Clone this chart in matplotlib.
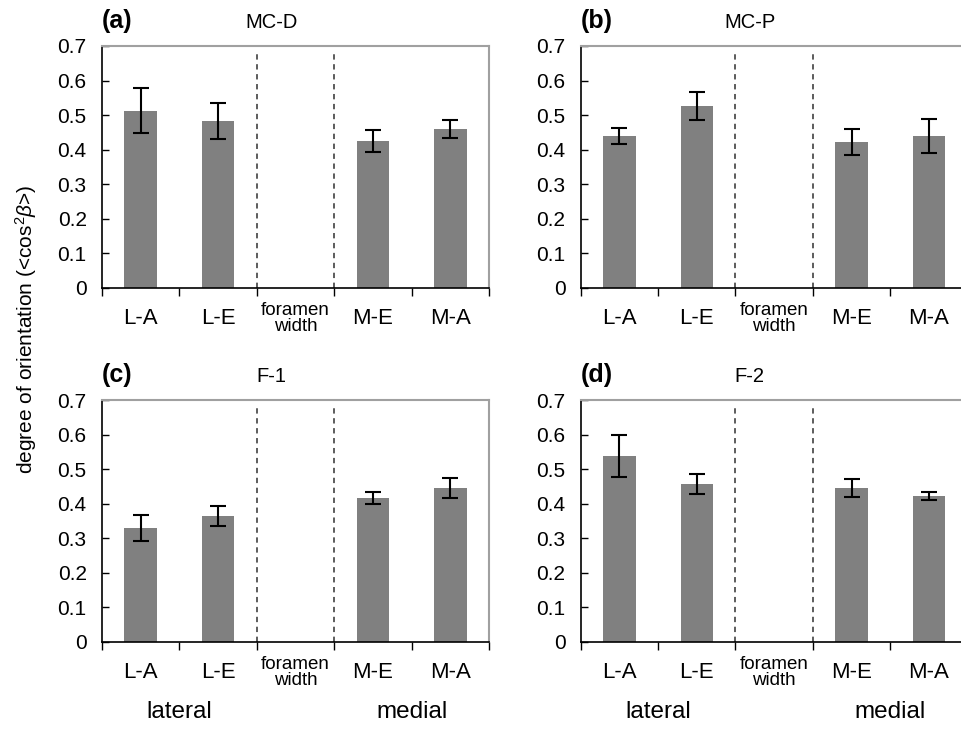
import numpy as np
import matplotlib
matplotlib.use("Agg")
import matplotlib.pyplot as plt
import matplotlib.transforms as mtransforms

plt.rcParams['font.family'] = ['Liberation Sans', 'DejaVu Sans']
plt.rcParams['mathtext.fontset'] = 'custom'
plt.rcParams['mathtext.rm'] = 'Liberation Sans'
plt.rcParams['mathtext.it'] = 'Liberation Sans:italic'

# categories (the middle slot is the foramen, no bar)
categories = ["L-A", "L-E", "foramen\nwidth", "M-E", "M-A"]
bar_slots = [0, 1, 3, 4]
panel_tags = ["(a)", "(b)", "(c)", "(d)"]
panel_names = ["MC-D", "MC-P", "F-1", "F-2"]

# mean degree of orientation, order L-A, L-E, M-E, M-A
mc_d = [0.513, 0.484, 0.424, 0.459]
mc_d_err = [0.064, 0.052, 0.032, 0.026]
mc_p = [0.439, 0.526, 0.423, 0.440]
mc_p_err = [0.024, 0.041, 0.038, 0.050]
f_1 = [0.329, 0.364, 0.416, 0.445]
f_1_err = [0.038, 0.030, 0.018, 0.030]
f_2 = [0.538, 0.457, 0.445, 0.422]
f_2_err = [0.061, 0.030, 0.027, 0.012]

values = [mc_d, mc_p, f_1, f_2]
errors = [mc_d_err, mc_p_err, f_1_err, f_2_err]

yticks = [0, 0.1, 0.2, 0.3, 0.4, 0.5, 0.6, 0.7]
ytick_labels = ["0", "0.1", "0.2", "0.3", "0.4", "0.5", "0.6", "0.7"]

fig = plt.figure(figsize=(9.62, 7.31), dpi=100)

W, H = 0.4023, 0.3307
positions = [
    [0.106, 0.6064, W, H],
    [0.6036, 0.6064, W, H],
    [0.106, 0.1220, W, H],
    [0.6036, 0.1220, W, H],
]

for i in range(4):
    ax = fig.add_axes(positions[i])
    ax.bar(bar_slots, values[i], width=0.42, color="#808080", zorder=2)
    ax.errorbar(bar_slots, values[i], yerr=errors[i], fmt="none",
                ecolor="black", elinewidth=1.5, capsize=5.5, capthick=1.5, zorder=3)

    # dashed lines around the foramen slot
    for xv in [1.5, 2.5]:
        ax.axvline(xv, ymin=0, ymax=0.975, color="#303030", lw=1.1,
                   ls=(0, (3.5, 3)), zorder=1)

    ax.set_xlim(-0.5, 4.5)
    ax.set_ylim(0, 0.7)

    ax.set_yticks(yticks)
    ax.set_yticklabels(ytick_labels, fontsize=15)
    ax.tick_params(axis="y", direction="in", length=5, width=1, pad=11)

    ax.set_xticks(np.arange(-0.5, 5.0, 1.0))
    ax.set_xticklabels([])
    ax.tick_params(axis="x", direction="out", length=5.5, width=1)

    for sp in ["left", "bottom"]:
        ax.spines[sp].set_color("black")
        ax.spines[sp].set_linewidth(1.2)
    for sp in ["top", "right"]:
        ax.spines[sp].set_color("#a0a0a0")
        ax.spines[sp].set_linewidth(1.5)

    trans = mtransforms.blended_transform_factory(ax.transData, ax.transAxes)
    for k, lab in enumerate(categories):
        if "\n" in lab:
            ax.text(k, -0.128, lab, transform=trans, ha="center", va="center",
                    fontsize=13.5, linespacing=0.95)
        else:
            ax.text(k, -0.128, lab, transform=trans, ha="center", va="center",
                    fontsize=16)

    if i >= 2:
        ax.text(0.5, -0.29, "lateral", transform=trans, ha="center",
                va="center", fontsize=17.5)
        ax.text(3.5, -0.29, "medial", transform=trans, ha="center",
                va="center", fontsize=17.5)

    ax.text(0.0, 1.075, panel_tags[i], transform=ax.transAxes, ha="left",
            va="baseline", fontsize=18, fontweight="bold")
    ax.text(0.437, 1.075, panel_names[i], transform=ax.transAxes, ha="center",
            va="baseline", fontsize=14.5)

fig.text(0.027, 0.55, r"degree of orientation (<cos$^2$$\it{\beta}$>)",
         rotation=90, ha="center", va="center", fontsize=15)

fig.savefig("out.png", dpi=100)
